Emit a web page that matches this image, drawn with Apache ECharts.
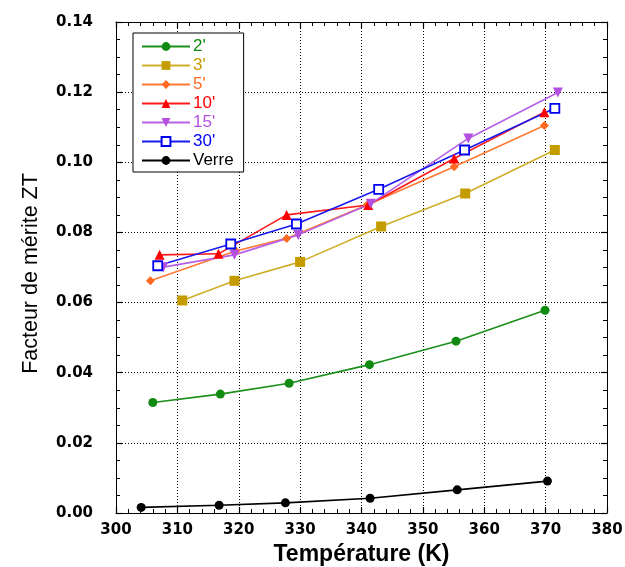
<!DOCTYPE html>
<html>
<head>
<meta charset="utf-8">
<script src="https://cdn.jsdelivr.net/npm/echarts@6/dist/echarts.min.js"></script>
<style>
html,body{margin:0;padding:0;background:#fff;}
#chart{width:625px;height:567px;}
</style>
</head>
<body>
<div id="chart"></div>
<script>
var seriesNames = ["2'", "3'", "5'", "10'", "15'", "30'", "Verre"];
var seriesColors = ["#118a11", "#c49c00", "#ff6a20", "#ff0000", "#b450e0", "#0000f0", "#000000"];
var lineColors = ["#1a8f1a", "#cfae2a", "#ff7a35", "#ff1a1a", "#b860e6", "#1a1af0", "#000000"];

var t2 = [306.0, 317.0, 328.2, 341.3, 355.4, 369.9];
var zt2 = [0.0315, 0.0339, 0.0370, 0.0423, 0.0490, 0.0578];

var t3 = [310.8, 319.3, 330.0, 343.2, 356.9, 371.5];
var zt3 = [0.0606, 0.0662, 0.0716, 0.0817, 0.0911, 0.1035];

var t5 = [305.6, 319.5, 327.8, 340.9, 355.1, 369.8];
var zt5 = [0.0662, 0.0747, 0.0783, 0.0878, 0.0987, 0.1105];

var t10 = [307.1, 316.7, 327.8, 341.1, 355.1, 369.8];
var zt10 = [0.0736, 0.0739, 0.0850, 0.0878, 0.1011, 0.1143];

var t15 = [307.7, 319.3, 329.7, 341.5, 357.4, 372.0];
var zt15 = [0.0701, 0.0736, 0.0793, 0.0882, 0.1068, 0.1199];

var t30 = [306.8, 318.7, 329.4, 342.8, 356.8, 371.5];
var zt30 = [0.0705, 0.0767, 0.0824, 0.0923, 0.1035, 0.1154];

var tVerre = [304.1, 316.8, 327.6, 341.4, 355.6, 370.3];
var ztVerre = [0.0016, 0.0022, 0.0029, 0.0042, 0.0066, 0.0091];

var xTicks = [300, 310, 320, 330, 340, 350, 360, 370, 380];
var yTicks = [0.00, 0.02, 0.04, 0.06, 0.08, 0.10, 0.12, 0.14];

function pairs(xs, ys) { return xs.map(function (x, i) { return [x, ys[i]]; }); }

var allT = [t2, t3, t5, t10, t15, t30, tVerre];
var allZ = [zt2, zt3, zt5, zt10, zt15, zt30, ztVerre];
var symbols = ['circle', 'rect', 'diamond', 'triangle', 'triangle', 'rect', 'circle'];
var symbolSizes = [9, 10, 9, 10, 10, 9, 9];
var rotations = [0, 0, 0, 0, 180, 0, 0];

var series = seriesNames.map(function (name, i) {
  var isOpen = (i === 5);
  return {
    name: name,
    type: 'line',
    data: pairs(allT[i], allZ[i]),
    symbol: symbols[i],
    symbolSize: symbolSizes[i],
    symbolRotate: rotations[i],
    showAllSymbol: true,
    lineStyle: { color: lineColors[i], width: 1.6 },
    itemStyle: {
      color: isOpen ? '#ffffff' : seriesColors[i],
      borderColor: seriesColors[i],
      borderWidth: isOpen ? 1.8 : 0
    },
    emphasis: { disabled: true },
    animation: false,
    z: 3
  };
});

var labelFont = { fontFamily: 'DejaVu Sans', fontWeight: 'bold', fontSize: 15, color: '#000' };

var option = {
  backgroundColor: '#fff',
  animation: false,
  grid: { left: 116, right: 18, top: 22, bottom: 54, containLabel: false, outerBoundsMode: 'none' },
  legend: {
    orient: 'vertical',
    left: 133,
    top: 33,
    width: 112,
    padding: [5, 10, 3, 8],
    itemWidth: 48,
    itemHeight: 11,
    itemGap: 2,
    borderColor: '#000',
    borderWidth: 1,
    backgroundColor: '#fff',
    data: seriesNames.map(function (n, i) {
      return { name: n, textStyle: { color: seriesColors[i] } };
    }),
    textStyle: { fontFamily: 'Liberation Sans', fontSize: 17, lineHeight: 17, padding: [0, 0, 0, -2] },
    z: 10
  },
  xAxis: [{
    type: 'value', min: 300, max: 380, interval: 10,
    name: 'Température (K)', nameLocation: 'middle', nameGap: 30,
    nameTextStyle: { fontFamily: 'Liberation Sans', fontWeight: 'bold', fontSize: 23, color: '#000' },
    axisLine: { onZero: false, lineStyle: { color: '#000', width: 1 } },
    axisTick: { inside: true, length: 6, lineStyle: { color: '#000', width: 1.2 } },
    minorTick: { show: true, splitNumber: 5, length: 4, lineStyle: { color: '#000' } },
    axisLabel: Object.assign({ margin: 10, formatter: function (v) { return xTicks.indexOf(v) >= 0 ? String(v) : ''; } }, labelFont),
    splitLine: { show: true, lineStyle: { color: '#000', type: [1, 2], width: 1 } }
  }, {
    type: 'value', min: 300, max: 380, interval: 10, position: 'top',
    axisLine: { onZero: false, lineStyle: { color: '#000', width: 1 } },
    axisTick: { inside: true, length: 6, lineStyle: { color: '#000', width: 1.2 } },
    minorTick: { show: true, splitNumber: 5, length: 4, lineStyle: { color: '#000' } },
    axisLabel: { show: false },
    splitLine: { show: false }
  }],
  yAxis: [{
    type: 'value', min: 0, max: 0.14, interval: 0.02,
    name: 'Facteur de mérite ZT', nameLocation: 'middle', nameGap: 74,
    nameTextStyle: { fontFamily: 'Liberation Sans', fontSize: 21.5, color: '#000', padding: [0, 12, 0, 0] },
    axisLine: { onZero: false, lineStyle: { color: '#000', width: 1 } },
    axisTick: { inside: true, length: 6, lineStyle: { color: '#000', width: 1.2 } },
    minorTick: { show: true, splitNumber: 4, length: 4, lineStyle: { color: '#000' } },
    axisLabel: Object.assign({ margin: 23, formatter: function (v) { return v.toFixed(2); } }, labelFont),
    splitLine: { show: true, lineStyle: { color: '#000', type: [1, 2], width: 1 } }
  }, {
    type: 'value', min: 0, max: 0.14, interval: 0.02, position: 'right',
    axisLine: { onZero: false, lineStyle: { color: '#000', width: 1 } },
    axisTick: { inside: true, length: 6, lineStyle: { color: '#000', width: 1.2 } },
    minorTick: { show: true, splitNumber: 4, length: 4, lineStyle: { color: '#000' } },
    axisLabel: { show: false },
    splitLine: { show: false }
  }],
  series: series
};

var chart = echarts.init(document.getElementById('chart'), null, { renderer: 'canvas' });
chart.setOption(option);
</script>
</body>
</html>
